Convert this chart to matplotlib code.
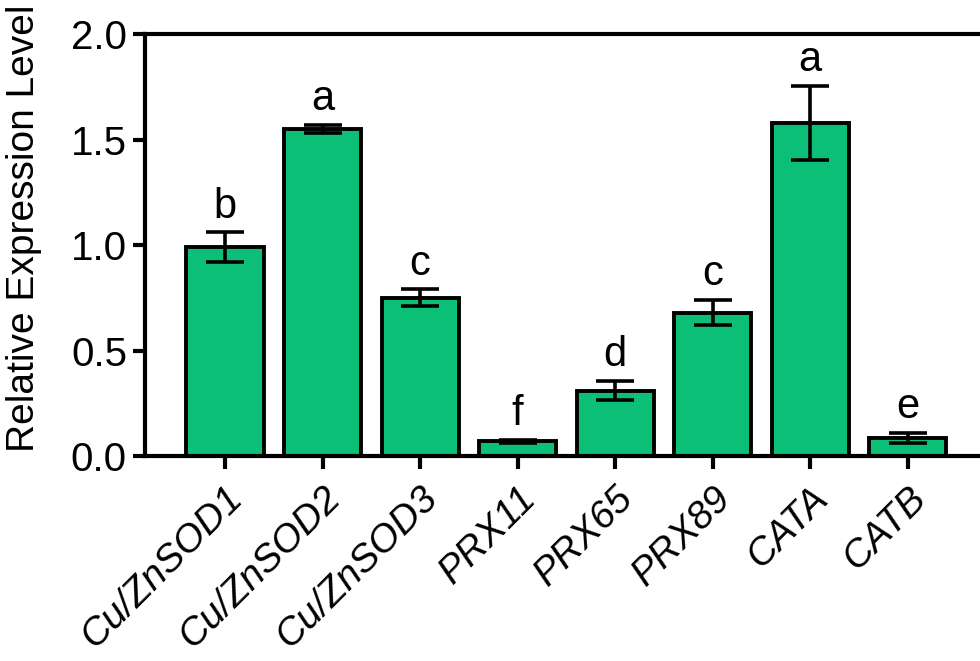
import matplotlib
matplotlib.use("Agg")
import matplotlib.pyplot as plt
import numpy as np

plt.rcParams['font.family'] = ['Liberation Sans', 'DejaVu Sans']

genes = ["Cu/ZnSOD1", "Cu/ZnSOD2", "Cu/ZnSOD3", "PRX11", "PRX65", "PRX89", "CATA", "CATB"]
means = [0.99, 1.55, 0.75, 0.07, 0.31, 0.68, 1.58, 0.085]
errs = [0.07, 0.02, 0.04, 0.006, 0.045, 0.06, 0.175, 0.025]
letters = ["b", "a", "c", "f", "d", "c", "a", "e"]

fig = plt.figure(figsize=(9.8, 6.61), dpi=100)
ax = fig.add_axes([0.148, 0.310, 0.852, 0.6386])

x = np.arange(len(genes))
ax.bar(x, means, width=0.79, color="#0BBF77", edgecolor="black", linewidth=2.8, zorder=2)
ax.errorbar(x, means, yerr=errs, fmt="none", ecolor="black", elinewidth=2.6,
            capsize=14, capthick=2.6, zorder=3)

for xi, m, e, lab in zip(x, means, errs, letters):
    ax.text(xi, m + e + 0.07, lab, ha="center", va="baseline", fontsize=30)

ax.set_xlim(-0.82, 7.74)
ax.set_ylim(0, 2.0)
ax.set_yticks([0.0, 0.5, 1.0, 1.5, 2.0])
ax.set_yticklabels(["0.0", "0.5", "1.0", "1.5", "2.0"], fontsize=29)
ax.set_xticks(x)
ax.set_xticklabels(genes, rotation=45, ha="right", rotation_mode="anchor",
                   fontsize=28, style="italic")
ax.set_ylabel("Relative Expression Level", fontsize=28)
ax.yaxis.set_label_coords(-0.123, 0.54)

for s in ["left", "bottom", "top"]:
    ax.spines[s].set_linewidth(3)
ax.spines["right"].set_visible(False)
ax.tick_params(axis="both", width=3, length=9, direction="out")
ax.tick_params(axis="x", pad=8)
ax.tick_params(axis="y", pad=4)

fig.savefig("out.png", dpi=100)
